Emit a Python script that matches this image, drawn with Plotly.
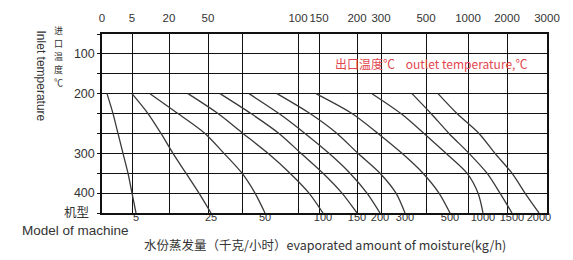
import plotly.graph_objects as go

# ---- data -------------------------------------------------------------
# vertical grid lines (chart units) and their top labels
grid_x = [0, 30, 67, 106, 140, 196, 217, 255, 279, 324, 366, 405, 445]
top_labels = ["0", "5", "20", "50", "", "100", "150", "200", "300", "500", "1000", "2000", "3000"]

# horizontal grid rows and inlet temperature labels
grid_rows = [0, 1, 2, 3, 4, 5, 6, 7, 8, 9]
row_labels = ["", "100", "", "200", "", "", "300", "", "400", ""]

# rows through which the curves are read
curve_rows = [3, 4, 5, 6, 7, 8, 9]

# machine models (curve labels at the bottom)
models = ["5", "25", "50", "100", "150", "200", "300", "500", "1000", "1500", "2000"]

# x position of each curve at each row in curve_rows
c_5 = [5, 11, 16, 21, 26, 30, 34]
c_25 = [30, 46, 59, 71, 84, 97, 109]
c_50 = [48, 76, 103, 122, 140, 153, 163]
c_100 = [86, 116, 141, 166, 188, 207, 221]
c_150 = [118, 149, 177, 199, 221, 240, 255]
c_200 = [147, 177, 203, 227, 248, 265, 278]
c_300 = [175, 208, 235, 256, 278, 294, 303]
c_500 = [214, 250, 276, 300, 321, 337, 348]
c_1000 = [270, 299, 322, 344, 365, 376, 381]
c_1500 = [310, 329, 347, 367, 385, 398, 410]
c_2000 = [336, 355, 377, 393, 410, 423, 437]
curves = [c_5, c_25, c_50, c_100, c_150, c_200, c_300, c_500, c_1000, c_1500, c_2000]

# left title characters (stacked upright)
inlet_cn = ["进", "口", "温", "度", "℃"]

# ---- layout constants --------------------------------------------------
W, H = 573, 260
L, R, T, B = 102, 26, 32, 47
PW, PH = W - L - R, H - T - B
FONT = "Liberation Sans, Arial, sans-serif"
CJK = "Noto Sans CJK SC, Liberation Sans, sans-serif"
TXT = "#333333"

def px_x(px):
    return (px - L) / PW

def px_y(py):
    return 1 - (py - T) / PH

fig = go.Figure()

for xs in curves:
    fig.add_trace(go.Scatter(
        x=xs, y=curve_rows, mode="lines",
        line=dict(color="#3a3a3a", width=1.3, shape="spline", smoothing=0.8),
        hoverinfo="skip", showlegend=False, cliponaxis=False,
    ))

# bottom model labels at the curve ends
fig.add_trace(go.Scatter(
    x=[c[-1] for c in curves], y=[curve_rows[-1]] * len(curves),
    mode="text", text=models, textposition="bottom center",
    textfont=dict(family=FONT, size=11, color=TXT),
    hoverinfo="skip", showlegend=False, cliponaxis=False,
))

annotations = []
# red legend-like text
annotations.append(dict(
    x=px_x(333), y=px_y(62), xref="paper", yref="paper",
    xanchor="left", yanchor="middle", showarrow=False,
    text="出口温度℃&nbsp;&nbsp;&nbsp;&nbsp;outlet temperature,℃",
    font=dict(family=CJK, size=12, color="#e2474f"),
))
# left title: stacked Chinese, one annotation per character
for i, ch in enumerate(inlet_cn):
    annotations.append(dict(
        x=px_x(58), y=px_y(28 + i * 13.2), xref="paper", yref="paper",
        xanchor="center", yanchor="middle", showarrow=False, text=ch,
        font=dict(family=CJK, size=9, color=TXT),
    ))
annotations.append(dict(
    x=px_x(41), y=px_y(74), xref="paper", yref="paper",
    xanchor="center", yanchor="middle", showarrow=False, textangle=90,
    text="Inlet temperature", font=dict(family=FONT, size=12, color=TXT),
))
annotations.append(dict(
    x=px_x(76), y=px_y(211), xref="paper", yref="paper",
    xanchor="center", yanchor="middle", showarrow=False, text="机型",
    font=dict(family=CJK, size=12.5, color=TXT),
))
annotations.append(dict(
    x=px_x(131), y=px_y(230.5), xref="paper", yref="paper",
    xanchor="right", yanchor="middle", showarrow=False, text="Model of machine",
    font=dict(family=FONT, size=13.5, color=TXT),
))
annotations.append(dict(
    x=px_x(142), y=px_y(245), xref="paper", yref="paper",
    xanchor="left", yanchor="middle", showarrow=False,
    text="水份蒸发量（千克/小时）evaporated amount of moisture(kg/h)",
    font=dict(family=CJK, size=12.5, color=TXT),
))

fig.update_layout(
    width=W, height=H, margin=dict(l=L, r=R, t=T, b=B, pad=0),
    paper_bgcolor="white", plot_bgcolor="white",
    annotations=annotations,
    xaxis=dict(
        range=[0, 445], side="top", tickmode="array", tickvals=grid_x, ticktext=top_labels,
        tickangle=0, ticklabelstandoff=6,
        showgrid=True, gridcolor="#111111", gridwidth=1.4, zeroline=False,
        showline=True, linecolor="#111111", linewidth=1.5, mirror=True,
        ticks="", tickfont=dict(family=FONT, size=11.5, color=TXT), fixedrange=True,
    ),
    yaxis=dict(
        range=[9, 0], tickmode="array", tickvals=grid_rows, ticktext=row_labels,
        showgrid=True, gridcolor="#111111", gridwidth=1.4, zeroline=False,
        showline=True, linecolor="#111111", linewidth=1.5, mirror=True,
        ticks="outside", ticklen=3, tickcolor="#111111",
        tickfont=dict(family=FONT, size=12.5, color=TXT), fixedrange=True,
    ),
)

fig.write_html("out.html")
